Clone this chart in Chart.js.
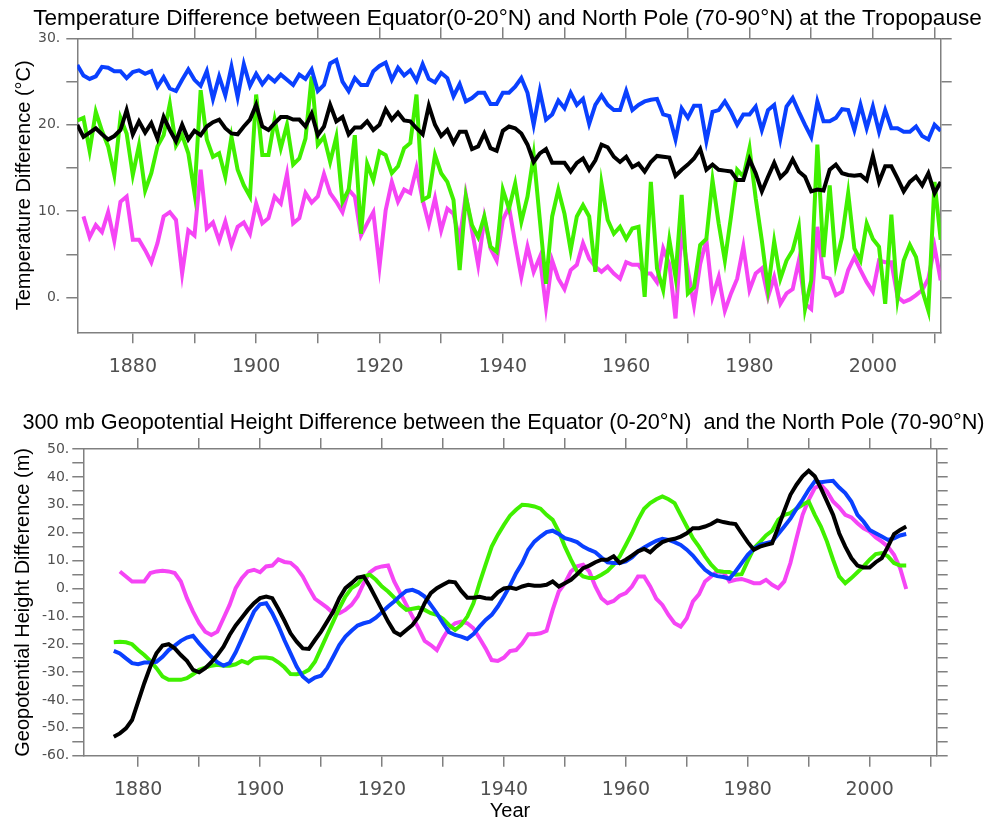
<!DOCTYPE html>
<html>
<head>
<meta charset="utf-8">
<script src="https://cdn.jsdelivr.net/npm/chart.js@4.4.1/dist/chart.umd.min.js"></script>
<style>
  html, body { margin: 0; padding: 0; background: #fff; overflow: hidden; width: 991px; height: 822px; }
  .panel { position: absolute; width: 991px; }
  #top-panel { left: 12px; top: 0; height: 385px; }
  #bottom-panel { left: 8px; top: 400px; height: 422px; }
</style>
</head>
<body>
<div class="panel" id="top-panel"><canvas id="temp-chart"></canvas></div>
<div class="panel" id="bottom-panel"><canvas id="height-chart"></canvas></div>
<script>
// tick marks along the year axes (labels only on every second one)
const decadeTicks = [1880, 1890, 1900, 1910, 1920, 1930, 1940, 1950, 1960, 1970, 1980, 1990, 2000, 2010];
const labelledYears = [1880, 1900, 1920, 1940, 1960, 1980, 2000];

// Upper panel: tropopause temperature difference, one value per year from 1871
const tempStartYear = 1871;
const tempBlue = [
  26.9, 25.7, 25.3, 25.6, 26.7, 26.6, 26.2, 26.2, 25.4, 26.1,
  26.3, 25.9, 26.2, 24.4, 25.5, 24.2, 23.9, 25.2, 26.4, 25.2,
  24.5, 26.2, 23.0, 25.6, 23.4, 26.7, 23.2, 27.0, 24.5, 25.9,
  24.7, 25.6, 25.0, 25.8, 25.2, 24.6, 25.8, 25.3, 26.4, 23.9,
  24.6, 27.1, 27.5, 25.0, 23.9, 25.4, 24.6, 24.6, 26.2, 26.8,
  27.2, 25.2, 26.6, 25.7, 26.3, 25.1, 27.0, 25.3, 24.9, 26.0,
  25.4, 23.3, 24.7, 22.7, 23.1, 23.7, 23.7, 22.4, 22.4, 23.7,
  23.7, 24.4, 25.4, 23.7, 20.0, 23.9, 20.6, 21.2, 22.8, 21.9,
  23.7, 22.3, 23.0, 20.1, 22.3, 23.4, 22.3, 21.7, 21.7, 23.9,
  21.7, 22.3, 22.7, 22.9, 23.0, 21.2, 21.0, 18.3, 21.9, 20.8,
  22.2, 22.2, 18.1, 21.5, 21.7, 22.7, 21.5, 20.0, 21.2, 21.2,
  22.1, 19.4, 21.7, 22.3, 18.4, 22.1, 23.1, 21.5, 20.0, 18.6,
  22.7, 20.4, 20.4, 20.8, 21.8, 21.7, 19.4, 22.3, 19.6, 22.1,
  19.2, 21.7, 19.6, 19.6, 19.2, 19.2, 19.8, 18.7, 18.3, 20.0,
  19.3
];
const tempBlack = [
  20.0, 18.6, 19.1, 19.6, 18.9, 18.3, 18.7, 19.4, 21.7, 18.9,
  20.4, 19.1, 20.2, 18.4, 20.9, 19.4, 18.1, 20.0, 18.3, 19.3,
  18.8, 19.8, 20.3, 20.6, 19.6, 19.0, 18.9, 19.8, 20.6, 22.3,
  19.8, 19.4, 20.2, 20.9, 20.9, 20.6, 20.6, 19.8, 21.3, 18.8,
  19.8, 22.3, 20.4, 20.9, 18.9, 19.7, 19.7, 20.4, 19.4, 20.0,
  21.8, 20.6, 21.4, 20.5, 20.4, 19.6, 18.9, 22.2, 20.0, 18.7,
  19.4, 17.9, 19.2, 19.2, 17.2, 17.5, 19.0, 17.3, 17.0, 19.3,
  19.8, 19.6, 19.0, 17.7, 15.7, 16.7, 17.2, 15.6, 15.6, 15.6,
  14.6, 15.6, 16.1, 14.8, 15.9, 17.7, 17.4, 16.3, 15.7, 16.3,
  15.1, 15.5, 14.6, 15.7, 16.4, 16.3, 16.2, 14.1, 14.8, 15.4,
  16.1, 17.2, 14.8, 15.4, 14.8, 14.7, 14.6, 13.6, 13.6, 16.0,
  14.4, 12.3, 14.0, 15.6, 13.9, 14.6, 16.0, 14.6, 14.0, 12.3,
  12.5, 12.4, 14.8, 15.4, 14.4, 14.2, 14.1, 14.2, 13.6, 16.4,
  13.4, 15.2, 15.2, 13.8, 12.3, 13.4, 14.0, 13.0, 14.4, 12.1,
  13.4
];
const tempGreen = [
  20.5, 20.8, 17.0, 21.5, 19.3, 17.5, 14.2, 20.8, 19.0, 14.2,
  17.6, 12.4, 14.4, 17.5, 18.8, 22.4, 17.6, 18.8, 16.7, 12.1,
  24.0, 18.3, 16.3, 16.7, 14.0, 18.6, 14.8, 13.0, 11.7, 23.5,
  16.5, 16.5, 20.6, 17.3, 20.0, 15.4, 16.1, 18.4, 25.6, 17.7,
  18.6, 15.7, 18.6, 11.1, 12.5, 18.8, 7.4, 15.5, 13.6, 16.9,
  16.5, 14.4, 15.2, 17.3, 17.9, 23.5, 11.3, 11.7, 16.5, 14.4,
  13.4, 11.3, 3.2, 11.7, 8.4, 7.0, 9.4, 5.9, 5.3, 12.5,
  10.3, 13.2, 8.8, 11.7, 16.5, 9.0, 1.6, 9.4, 12.5, 9.7,
  5.5, 9.4, 10.7, 9.4, 3.0, 13.2, 9.0, 7.4, 8.2, 6.8,
  8.0, 8.2, 0.1, 13.4, 3.4, 0.9, 6.7, 2.4, 11.9, 0.5,
  1.2, 6.1, 6.8, 13.6, 8.6, 4.3, 9.4, 14.8, 14.0, 17.3,
  11.5, 6.6, 1.0, 6.5, 2.2, 4.3, 5.5, 8.2, -1.3, 2.0,
  17.7, 4.7, 13.0, 3.9, 7.0, 12.1, 5.7, 4.3, 8.6, 6.8,
  5.9, -0.7, 9.6, -0.1, 4.3, 6.1, 4.7, 0.9, -1.5, 13.4,
  6.7
];
const tempMagenta = [
  null, 9.4, 7.0, 8.4, 7.6, 9.9, 6.6, 11.1, 11.7, 6.7,
  6.7, 5.5, 4.1, 6.3, 9.4, 9.9, 9.0, 2.8, 7.8, 7.2,
  14.8, 8.0, 8.7, 6.6, 8.8, 6.1, 8.2, 8.7, 7.4, 10.9,
  8.6, 9.2, 11.7, 10.9, 14.3, 8.6, 9.2, 12.1, 11.0, 11.7,
  14.3, 12.1, 11.1, 9.9, 12.5, 11.7, 7.2, 8.6, 9.9, 3.6,
  10.1, 13.4, 11.1, 12.5, 12.1, 15.0, 11.3, 8.5, 11.5, 7.8,
  10.3, 9.7, 6.7, 11.9, 7.8, 3.8, 9.2, 5.7, 4.3, 9.0,
  10.5, 6.3, 2.4, 5.9, 3.0, 4.7, -1.1, 4.3, 2.2, 1.0,
  3.2, 3.8, 6.3, 4.5, 3.6, 3.0, 3.6, 2.8, 2.2, 4.1,
  3.8, 3.8, 2.8, 2.8, 1.8, 5.7, 3.9, -2.4, 7.8, 3.2,
  -0.9, 3.9, 6.7, 0.1, 2.4, -1.5, 0.5, 2.2, 5.9, 0.9,
  2.8, 3.4, 0.1, 2.4, -0.7, 0.5, 1.0, 4.3, -0.7, -1.3,
  8.2, 2.4, 2.2, 0.3, 0.7, 3.2, 4.7, 3.2, 1.8, 0.7,
  4.3, 4.1, 4.1, 0.1, -0.5, -0.2, 0.3, 0.9, 2.2, 5.9,
  2.0
];

// Lower panel: smoothed 300 mb height difference, one value per year from 1876
const heightStartYear = 1876;
const heightBlack = [
  -53.2, -52.0, -50.2, -47.2, -40.6, -34.0, -28.0, -23.3, -20.5, -20.0,
  -21.5, -23.9, -26.0, -29.2, -30.1, -28.6, -26.5, -23.9, -20.9, -16.7,
  -13.3, -10.5, -7.7, -5.3, -3.5, -2.9, -3.5, -7.4, -11.6, -16.1,
  -19.1, -21.5, -21.7, -18.5, -15.5, -11.9, -8.3, -3.5, 0.1, 1.9,
  3.9, 4.3, 0.7, -3.5, -7.7, -11.9, -15.5, -16.7, -14.9, -13.1,
  -10.1, -5.3, -1.7, 0.1, 1.3, 2.5, 2.2, -0.9, -3.3, -3.3,
  -3.0, -3.5, -3.7, -1.4, 0.0, 0.3, -0.2, 0.7, 1.3, 1.0,
  1.0, 1.3, 2.5, 0.7, 1.9, 3.1, 5.1, 7.3, 8.2, 9.4,
  10.3, 10.3, 11.5, 9.1, 10.3, 11.8, 13.3, 14.2, 13.0, 15.0,
  16.6, 17.4, 17.8, 18.6, 19.8, 21.6, 21.6, 22.2, 23.1, 24.4,
  23.8, 23.4, 23.1, 19.8, 16.6, 13.9, 15.0, 15.6, 16.2, 21.9,
  27.9, 33.6, 37.2, 40.2, 42.2, 40.2, 36.0, 31.2, 26.4, 19.8,
  15.0, 10.9, 8.2, 7.5, 7.5, 9.4, 10.9, 15.0, 19.5, 21.0,
  22.2
];
const heightBlue = [
  -22.4, -23.3, -25.1, -26.8, -27.2, -26.6, -26.6, -26.3, -24.5, -22.1,
  -20.5, -18.8, -17.6, -17.0, -19.7, -22.1, -24.5, -26.5, -27.7, -26.8,
  -22.9, -18.1, -13.1, -8.3, -5.7, -5.3, -8.9, -13.4, -18.6, -23.3,
  -28.0, -31.6, -33.4, -32.0, -31.3, -28.6, -24.5, -20.3, -17.3, -15.2,
  -13.3, -12.5, -11.9, -10.5, -8.5, -6.5, -4.7, -2.6, -0.9, -0.5,
  -1.4, -2.9, -5.9, -8.9, -12.5, -15.7, -16.7, -17.3, -18.1, -16.4,
  -13.7, -11.3, -9.5, -6.5, -2.9, 1.0, 5.5, 9.1, 13.9, 16.8,
  18.6, 20.2, 20.7, 19.5, 18.0, 17.4, 16.6, 15.0, 13.9, 13.0,
  11.1, 9.4, 9.1, 9.1, 9.7, 11.1, 13.3, 14.7, 15.9, 17.1,
  17.8, 17.4, 16.6, 15.6, 13.9, 11.8, 9.1, 6.7, 5.1, 4.4,
  4.1, 3.5, 6.1, 9.1, 12.1, 14.2, 15.6, 16.2, 16.8, 19.5,
  22.2, 25.0, 28.6, 31.8, 35.4, 38.4, 38.1, 38.4, 38.6, 36.2,
  34.2, 31.2, 26.4, 24.0, 21.0, 19.8, 18.6, 17.4, 18.0, 19.0,
  19.5
];
const heightGreen = [
  -19.3, -19.1, -19.3, -20.0, -22.1, -23.9, -26.0, -28.6, -31.6, -32.8,
  -32.8, -32.8, -32.2, -30.8, -29.2, -28.4, -27.7, -27.4, -27.7, -27.7,
  -27.2, -26.0, -26.8, -25.1, -24.8, -24.8, -25.1, -26.5, -28.3, -30.7,
  -30.8, -30.4, -29.2, -26.3, -21.5, -16.7, -11.9, -7.1, -2.9, 0.1,
  1.5, 4.3, 4.9, 3.1, 0.7, -1.1, -3.3, -5.9, -7.7, -7.3,
  -6.9, -7.7, -8.9, -9.5, -10.9, -13.1, -14.9, -13.1, -10.1, -5.3,
  1.9, 8.5, 15.0, 19.2, 22.8, 26.1, 28.2, 30.0, 29.8, 29.4,
  28.6, 26.4, 24.6, 20.4, 15.0, 10.3, 6.1, 4.3, 3.7, 3.7,
  4.9, 6.3, 8.5, 11.5, 15.6, 19.8, 24.6, 28.6, 30.6, 32.0,
  33.0, 32.0, 30.6, 26.4, 22.2, 18.0, 15.0, 11.5, 8.5, 6.3,
  6.0, 5.9, 4.9, 5.1, 9.9, 14.4, 16.6, 19.0, 20.7, 24.6,
  26.4, 27.0, 28.6, 30.0, 31.2, 26.4, 22.2, 16.8, 10.3, 4.3,
  1.9, 3.7, 5.8, 7.9, 10.3, 12.3, 12.7, 11.5, 9.1, 8.2,
  8.2
];
const heightMagenta = [
  null, 6.1, 4.3, 2.5, 2.5, 2.5, 5.5, 6.1, 6.3, 6.1,
  5.5, 2.5, -3.5, -8.3, -12.5, -15.5, -16.7, -15.5, -10.7, -5.9,
  0.1, 3.7, 6.1, 6.7, 5.8, 7.9, 8.2, 10.4, 9.5, 9.2,
  7.3, 4.3, 0.1, -3.7, -5.3, -6.9, -8.9, -8.9, -7.7, -5.9,
  -2.9, 1.9, 5.8, 7.3, 7.9, 8.2, 2.5, -1.7, -5.9, -10.1,
  -14.3, -18.8, -20.3, -22.1, -17.9, -14.3, -12.5, -11.9, -12.5, -14.3,
  -17.9, -21.5, -25.7, -26.0, -24.8, -22.5, -22.1, -19.7, -16.4, -16.4,
  -16.1, -15.2, -7.7, -1.1, 1.9, 6.1, 7.9, 8.5, 6.1, 0.7,
  -3.5, -5.3, -4.5, -2.6, -1.7, 0.7, 4.3, 4.3, 0.7, -3.7,
  -5.9, -9.5, -12.5, -13.7, -10.7, -4.7, -2.1, 2.5, 4.3, 6.1,
  5.8, 2.5, 3.1, 3.4, 2.7, 1.9, 1.9, 3.1, 1.3, 0.1,
  2.5, 9.1, 18.0, 26.4, 31.8, 36.0, 37.2, 34.8, 31.2, 29.1,
  26.4, 25.5, 23.4, 21.6, 20.4, 18.3, 16.8, 15.0, 12.1, 7.3,
  -0.2
];

const BLUE = "#0a40ff";
const BLACK = "#000000";
const GREEN = "#40f000";
const MAGENTA = "#f545f5";
const AXIS = "#808080";
const TICK_TEXT = "#505050";
const SANS = "'Liberation Sans', Arial, sans-serif";
const TICK_FONT = "'DejaVu Sans', sans-serif";

function toPoints(startYear, values) {
  return values.map((v, i) => ({ x: startYear + i, y: v }));
}

function series(label, startYear, values, color) {
  return {
    label: label,
    data: toPoints(startYear, values),
    borderColor: color,
    borderWidth: 4,
    pointRadius: 0,
    fill: false,
    tension: 0,
  };
}

function frameGrid() {
  return { display: true, drawOnChartArea: false, tickLength: 11, color: AXIS, lineWidth: 1.5 };
}

function frameBorder() {
  return { display: true, color: AXIS, width: 1.5 };
}

function fixHeight(h) {
  return (scale) => { scale.height = h; };
}

function fixWidth(w) {
  return (scale) => { scale.width = w; };
}

function yearAxis(position, height, showLabels, labelPadding) {
  return {
    type: "linear",
    axis: "x",
    position: position,
    min: 1871,
    max: 2011,
    afterFit: fixHeight(height),
    afterBuildTicks: (scale) => {
      scale.ticks = decadeTicks.map((v) => ({ value: v }));
    },
    grid: frameGrid(),
    border: frameBorder(),
    ticks: {
      display: showLabels,
      autoSkip: false,
      maxRotation: 0,
      padding: labelPadding,
      color: TICK_TEXT,
      font: { family: TICK_FONT, size: 19 },
      callback: (v) => (labelledYears.includes(v) ? String(v) : ""),
    },
  };
}

function valueAxis(position, min, max, width, showLabels, labelPadding) {
  return {
    type: "linear",
    axis: "y",
    position: position,
    min: min,
    max: max,
    afterFit: fixWidth(width),
    grid: frameGrid(),
    border: frameBorder(),
    ticks: {
      display: showLabels,
      stepSize: 5,
      maxTicksLimit: 100,
      includeBounds: false,
      autoSkip: false,
      padding: labelPadding,
      color: TICK_TEXT,
      font: { family: TICK_FONT, size: 14 },
      callback: (v) => (v % 10 === 0 ? v + "." : ""),
    },
  };
}

function baseOptions(titleText, titleSize, titlePadTop) {
  return {
    responsive: true,
    maintainAspectRatio: false,
    animation: false,
    layout: { padding: 0 },
    plugins: {
      legend: { display: false },
      tooltip: { enabled: false },
      title: {
        display: true,
        text: titleText,
        color: "#000",
        font: { family: SANS, size: titleSize, weight: "normal", lineHeight: 1.2 },
        padding: { top: titlePadTop, bottom: 0 },
      },
    },
  };
}

// ---- upper chart
const tempOptions = baseOptions(
  "Temperature Difference between Equator(0-20°N) and North Pole (70-90°N) at the Tropopause",
  22.6,
  5
);
const tempY = valueAxis("left", -4, 30, 65.3, true, 6);
tempY.title = {
  display: true,
  text: "Temperature Difference (°C)",
  color: "#000",
  font: { family: SANS, size: 20 },
  padding: { top: 0, bottom: 0 },
};
tempOptions.scales = {
  x: yearAxis("bottom", 52.7, true, 12),
  x2: yearAxis("top", 6.2, false, 0),
  y: tempY,
  y2: valueAxis("right", -4, 30, 62.3, false, 0),
};

new Chart(document.getElementById("temp-chart"), {
  type: "line",
  data: {
    datasets: [
      series("blue", tempStartYear, tempBlue, BLUE),
      series("black", tempStartYear, tempBlack, BLACK),
      series("green", tempStartYear, tempGreen, GREEN),
      series("magenta", tempStartYear, tempMagenta, MAGENTA),
    ],
  },
  options: tempOptions,
});

// ---- lower chart
const heightOptions = baseOptions(
  "300 mb Geopotential Height Difference between the Equator (0-20°N)  and the North Pole (70-90°N)",
  21.7,
  10
);
const heightX = yearAxis("bottom", 66.3, true, 12);
heightX.title = {
  display: true,
  text: "Year",
  color: "#000",
  font: { family: SANS, size: 20 },
  padding: { top: 0, bottom: -1 },
};
const heightY = valueAxis("left", -60, 50, 75.3, true, 3);
heightY.title = {
  display: true,
  text: "Geopotential Height Difference (m)",
  color: "#000",
  font: { family: SANS, size: 20 },
  padding: { top: 3.3, bottom: 0 },
};
heightOptions.scales = {
  x: heightX,
  x2: yearAxis("top", 13, false, 0),
  y: heightY,
  y2: valueAxis("right", -60, 50, 62.3, false, 0),
};

new Chart(document.getElementById("height-chart"), {
  type: "line",
  data: {
    datasets: [
      series("black", heightStartYear, heightBlack, BLACK),
      series("blue", heightStartYear, heightBlue, BLUE),
      series("green", heightStartYear, heightGreen, GREEN),
      series("magenta", heightStartYear, heightMagenta, MAGENTA),
    ],
  },
  options: heightOptions,
});
</script>
</body>
</html>
